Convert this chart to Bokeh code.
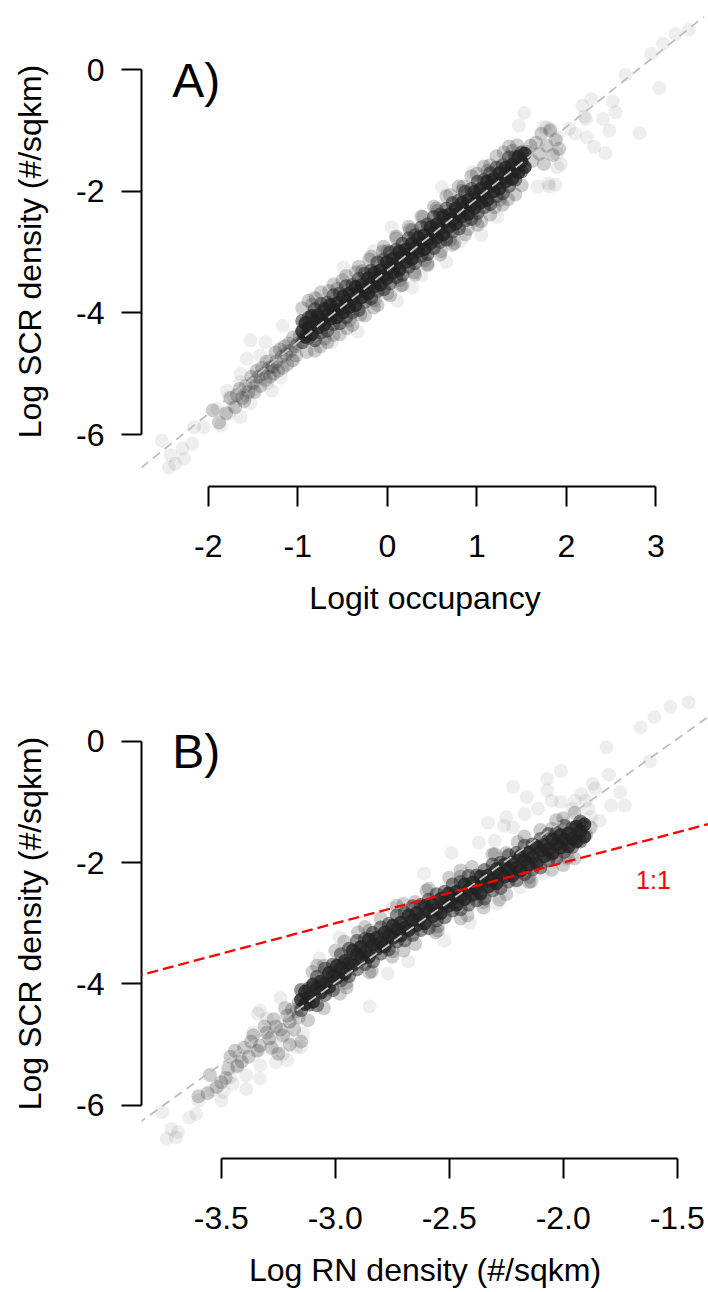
from bokeh.plotting import figure
from bokeh.models import Range1d, FixedTicker, Slope, Label
from bokeh.layouts import column
from bokeh.embed import file_html
from bokeh.resources import INLINE

FONT = "Liberation Sans"

# ---------------- axis ticks / labels ----------------
y_ticks = [-6, -4, -2, 0]
y_tick_labels = ["-6", "-4", "-2", "0"]
a_x_ticks = [-2, -1, 0, 1, 2, 3]
a_x_tick_labels = ["-2", "-1", "0", "1", "2", "3"]
b_x_ticks = [-3.5, -3.0, -2.5, -2.0, -1.5]
b_x_tick_labels = ["-3.5", "-3.0", "-2.5", "-2.0", "-1.5"]

y_title = "Log SCR density (#/sqkm)"
a_x_title = "Logit occupancy"
b_x_title = "Log RN density (#/sqkm)"

# fitted (grey) lines and 1:1 (red) line: slope, intercept
a_fit = (1.18, -3.30)
b_fit = (2.68, 4.06)
one_to_one = (1.0, 0.0)

# ---------------- panel A: dense band of points ----------------
a_band_x1 = [-0.95, -0.88, -0.81, -0.74, -0.67, -0.60, -0.53, -0.46, -0.39, -0.32, -0.25, -0.18,
             -0.11, -0.04, 0.03, 0.10, 0.17, 0.24, 0.31, 0.38, 0.45, 0.52, 0.59, 0.66,
             0.73, 0.80, 0.87, 0.94, 1.01, 1.08, 1.15, 1.22, 1.29, 1.36, 1.43, 1.50]
a_band_mid = [-4.30, -4.25, -4.15, -4.12, -4.04, -3.96, -3.94, -3.81, -3.77, -3.65, -3.62, -3.51,
              -3.42, -3.38, -3.25, -3.19, -3.07, -3.04, -2.93, -2.84, -2.80, -2.67, -2.61, -2.49,
              -2.46, -2.36, -2.26, -2.22, -2.09, -2.04, -1.91, -1.88, -1.78, -1.69, -1.64, -1.51]
a_band_top2 = [-4.13, -4.08, -3.94, -3.85, -3.83, -3.71, -3.68, -3.56, -3.54, -3.44, -3.35, -3.30,
               -3.17, -3.12, -3.00, -2.96, -2.86, -2.77, -2.72, -2.59, -2.54, -2.42, -2.38, -2.28,
               -2.19, -2.15, -2.01, -1.96, -1.84, -1.81, -1.70, -1.61, -1.57, -1.44, -1.44, -1.36]
a_band_bot2 = [-4.48, -4.41, -4.45, -4.32, -4.29, -4.18, -4.17, -4.07, -3.99, -3.95, -3.82, -3.76,
               -3.64, -3.61, -3.51, -3.41, -3.37, -3.24, -3.18, -3.06, -3.03, -2.93, -2.83, -2.79,
               -2.66, -2.61, -2.48, -2.45, -2.35, -2.26, -2.21, -2.08, -2.03, -1.91, -1.81, -1.67]
a_band_x2 = [-0.915, -0.845, -0.775, -0.705, -0.635, -0.565, -0.495, -0.425, -0.355, -0.285, -0.215,
             -0.145, -0.075, -0.005, 0.065, 0.135, 0.205, 0.275, 0.345, 0.415, 0.485, 0.555, 0.625,
             0.695, 0.765, 0.835, 0.905, 0.975, 1.045, 1.115, 1.185, 1.255, 1.325, 1.395, 1.465, 1.535]
a_band_top1 = [-4.17, -4.05, -4.04, -3.94, -3.87, -3.84, -3.73, -3.68, -3.57, -3.54, -3.43, -3.34,
               -3.30, -3.17, -3.11, -2.99, -2.96, -2.86, -2.76, -2.72, -2.59, -2.54, -2.41, -2.38,
               -2.28, -2.19, -2.14, -2.01, -1.96, -1.84, -1.80, -1.70, -1.61, -1.56, -1.43, -1.38]
a_band_bot1 = [-4.39, -4.35, -4.24, -4.19, -4.09, -4.07, -3.99, -3.90, -3.87, -3.74, -3.68, -3.56,
               -3.53, -3.43, -3.33, -3.29, -3.16, -3.11, -2.98, -2.95, -2.85, -2.76, -2.71, -2.58,
               -2.53, -2.41, -2.37, -2.27, -2.18, -2.14, -2.00, -1.95, -1.83, -1.79, -1.69, -1.60]

a_fringe = [
    (-0.95, -3.92), (-0.80, -3.76), (-0.65, -3.64), (-0.50, -3.46), (-0.35, -3.33),
    (-0.20, -3.12), (-0.05, -2.99), (0.10, -2.77), (0.25, -2.63), (0.40, -2.42),
    (0.55, -2.28), (0.70, -2.06), (0.85, -1.92), (1.00, -1.71), (1.15, -1.57),
    (1.30, -1.36), (1.45, -1.24),
    (-0.90, -4.64), (-0.75, -4.55), (-0.60, -4.36), (-0.45, -4.25), (-0.30, -4.03),
    (-0.15, -3.91), (0.00, -3.68), (0.15, -3.55), (0.30, -3.33), (0.45, -3.19),
    (0.60, -2.98), (0.75, -2.85), (0.90, -2.62), (1.05, -2.49), (1.20, -2.26),
    (1.35, -2.13), (1.50, -1.90),
    (-0.84, -3.86), (-0.56, -3.60), (-0.28, -3.31), (0.00, -2.98), (0.28, -2.64),
    (0.56, -2.32), (0.84, -1.99), (1.12, -1.66), (1.40, -1.33),
    (-0.70, -4.42), (-0.42, -4.12), (-0.14, -3.79), (0.14, -3.46), (0.42, -3.13),
    (0.70, -2.80), (0.98, -2.47), (1.26, -2.14),
    (-0.88, -3.80), (-0.74, -3.66), (-0.60, -3.53), (-0.46, -3.39), (-0.32, -3.24),
    (-0.18, -3.07), (-0.04, -2.91), (0.10, -2.74), (0.24, -2.58), (0.38, -2.41),
    (0.52, -2.25), (0.66, -2.08), (0.80, -1.92), (0.94, -1.75), (1.08, -1.59),
    (1.22, -1.42), (1.36, -1.26),
    (-0.81, -4.62), (-0.67, -4.48), (-0.53, -4.35), (-0.39, -4.20), (-0.25, -4.04),
    (-0.11, -3.87), (0.03, -3.71), (0.17, -3.54), (0.31, -3.37), (0.45, -3.21),
    (0.59, -3.04), (0.73, -2.88), (0.87, -2.71), (1.01, -2.55), (1.15, -2.38),
    (1.29, -2.22), (1.43, -2.05),
    (-1.00, -4.50), (-1.02, -4.70), (-1.05, -4.40), (-1.08, -4.62), (-1.12, -4.85),
    (-1.15, -4.55), (-1.18, -4.72), (-1.22, -4.95), (-1.25, -4.65), (-1.28, -4.88),
    (-1.31, -5.05), (-1.35, -4.80), (-1.38, -5.00), (-1.42, -5.20), (-1.46, -4.95),
    (-1.50, -5.15), (-1.55, -5.30), (-1.60, -5.45), (-1.65, -5.25), (-1.70, -5.55),
    (-1.75, -5.40), (-1.80, -5.65), (-1.88, -5.80), (-1.95, -5.60),
    (-0.98, -4.38), (-1.03, -4.55), (-1.06, -4.78), (-1.10, -4.50), (-1.13, -4.68),
    (-1.17, -4.90), (-1.20, -4.60), (-1.24, -4.80), (-1.27, -5.00), (-1.32, -4.90),
    (-1.36, -5.10), (-1.40, -4.90), (-1.44, -5.05), (-1.48, -5.30), (-1.52, -5.05),
    (-1.58, -5.20), (-1.62, -5.40), (-1.68, -5.35),
    (1.55, -1.35), (1.60, -1.25), (1.62, -1.50), (1.66, -1.20), (1.70, -1.38),
    (1.72, -1.05), (1.75, -1.55), (1.78, -1.25), (1.82, -1.00), (1.85, -1.40),
    (1.88, -1.15), (1.92, -1.30),
]

a_sparse = [
    (3.37, 0.66), (3.22, 0.59), (3.08, 0.43), (2.95, 0.26), (2.66, -0.08), (3.04, -0.30),
    (2.28, -0.48), (2.18, -0.59), (2.52, -0.52), (2.55, -0.70), (2.41, -0.81), (2.22, -0.81),
    (2.20, -0.77), (2.48, -1.00), (2.82, -1.04), (2.23, -1.11), (2.31, -1.27), (2.44, -1.37),
    (2.03, -0.97), (2.10, -1.05), (1.82, -0.97), (1.75, -0.94), (1.90, -1.11), (1.90, -1.38),
    (1.90, -1.60), (1.53, -0.71), (1.78, -0.95), (1.88, -1.89), (1.81, -1.92), (1.68, -1.92),
    (1.94, -1.55), (1.47, -0.92),
    (0.11, -3.80), (-0.33, -4.31), (0.66, -3.16), (1.23, -2.42), (1.80, -1.87),
    (0.61, -1.93), (0.05, -2.59), (-0.49, -3.25), (-0.82, -3.74), (0.28, -3.58), (-1.17, -4.21),
    (0.95, -1.68), (1.05, -2.72), (-0.15, -2.98), (0.38, -3.38), (-0.62, -4.48), (0.82, -2.82),
    (-1.53, -4.45), (-1.36, -4.48), (-1.57, -4.75), (-1.42, -4.70), (-1.64, -5.00), (-1.64, -5.14),
    (-1.79, -5.28), (-1.77, -5.39), (-1.90, -5.58), (-1.77, -5.66), (-1.64, -5.71), (-1.86, -5.85),
    (-2.05, -5.88), (-2.16, -5.88), (-2.52, -6.10), (-2.18, -6.15), (-2.29, -6.23), (-2.42, -6.34),
    (-2.27, -6.40), (-2.37, -6.48), (-2.44, -6.54), (-1.57, -5.36), (-1.47, -5.11), (-1.34, -5.16),
    (-1.29, -5.28), (-1.27, -4.89), (-1.19, -5.06), (-1.12, -4.62), (-1.31, -4.78), (-1.05, -4.78),
    (-1.53, -5.49), (-1.72, -5.52), (-1.50, -5.28),
]

# ---------------- panel B: dense band of points ----------------
b_band_x1 = [-3.15, -3.115, -3.08, -3.045, -3.01, -2.975, -2.94, -2.905, -2.87, -2.835, -2.80, -2.765,
             -2.73, -2.695, -2.66, -2.625, -2.59, -2.555, -2.52, -2.485, -2.45, -2.415, -2.38, -2.345,
             -2.31, -2.275, -2.24, -2.205, -2.17, -2.135, -2.10, -2.065, -2.03, -1.995, -1.96, -1.925]
b_band_mid = [-4.26, -4.21, -4.07, -4.00, -3.87, -3.74, -3.66, -3.52, -3.47, -3.35, -3.32, -3.20,
              -3.10, -3.07, -2.95, -2.91, -2.80, -2.77, -2.67, -2.59, -2.56, -2.45, -2.42, -2.31,
              -2.28, -2.19, -2.11, -2.08, -1.95, -1.91, -1.80, -1.78, -1.70, -1.62, -1.60, -1.48]
b_band_top2 = [-4.10, -4.07, -3.88, -3.75, -3.68, -3.51, -3.42, -3.29, -3.26, -3.16, -3.07, -3.01,
               -2.87, -2.83, -2.72, -2.70, -2.61, -2.52, -2.48, -2.36, -2.32, -2.22, -2.21, -2.12,
               -2.03, -2.00, -1.88, -1.84, -1.72, -1.70, -1.61, -1.53, -1.51, -1.39, -1.43, -1.32]
b_band_bot2 = [-4.43, -4.34, -4.35, -4.18, -4.10, -3.94, -3.87, -3.76, -3.67, -3.63, -3.50, -3.43,
               -3.30, -3.28, -3.19, -3.11, -3.08, -2.95, -2.90, -2.79, -2.77, -2.69, -2.62, -2.59,
               -2.46, -2.42, -2.31, -2.29, -2.19, -2.11, -2.08, -1.96, -1.93, -1.82, -1.74, -1.65]
b_band_x2 = [-3.1325, -3.0975, -3.0625, -3.0275, -2.9925, -2.9575, -2.9225, -2.8875, -2.8525,
             -2.8175, -2.7825, -2.7475, -2.7125, -2.6775, -2.6425, -2.6075, -2.5725, -2.5375,
             -2.5025, -2.4675, -2.4325, -2.3975, -2.3625, -2.3275, -2.2925, -2.2575, -2.2225,
             -2.1875, -2.1525, -2.1175, -2.0825, -2.0475, -2.0125, -1.9775, -1.9425, -1.9075]
b_band_top1 = [-4.13, -4.01, -3.96, -3.82, -3.70, -3.62, -3.45, -3.39, -3.27, -3.24, -3.15, -3.04,
               -2.99, -2.87, -2.83, -2.72, -2.70, -2.60, -2.51, -2.48, -2.36, -2.33, -2.23, -2.21,
               -2.11, -2.03, -2.00, -1.89, -1.84, -1.73, -1.71, -1.62, -1.55, -1.52, -1.41, -1.37]
b_band_bot1 = [-4.33, -4.29, -4.14, -4.05, -3.90, -3.83, -3.69, -3.59, -3.55, -3.42, -3.38, -3.24,
               -3.20, -3.11, -3.03, -3.00, -2.88, -2.83, -2.71, -2.69, -2.60, -2.53, -2.51, -2.39,
               -2.34, -2.23, -2.21, -2.13, -2.04, -2.01, -1.89, -1.85, -1.75, -1.73, -1.65, -1.57]

b_fringe = [
    (-3.10, -3.80), (-3.00, -3.45), (-2.90, -3.15), (-2.80, -2.92), (-2.70, -2.68),
    (-2.60, -2.46), (-2.50, -2.25), (-2.40, -2.07), (-2.30, -1.86), (-2.20, -1.66),
    (-2.10, -1.46), (-2.00, -1.27), (-1.95, -1.18),
    (-3.05, -4.40), (-2.95, -4.06), (-2.85, -3.81), (-2.75, -3.55), (-2.65, -3.34),
    (-2.55, -3.12), (-2.45, -2.92), (-2.35, -2.74), (-2.25, -2.52), (-2.15, -2.32),
    (-2.05, -2.12), (-1.95, -1.93),
    (-3.05, -3.70), (-2.85, -3.12), (-2.65, -2.65), (-2.45, -2.23), (-2.25, -1.84), (-2.05, -1.44),
    (-2.95, -3.98), (-2.75, -3.46), (-2.55, -3.05), (-2.35, -2.65), (-2.15, -2.24), (-1.98, -1.92),
    (-3.08, -3.70), (-2.96, -3.30), (-2.87, -3.06), (-2.73, -2.71), (-2.59, -2.43),
    (-2.45, -2.13), (-2.31, -1.86), (-2.17, -1.57), (-2.03, -1.30),
    (-3.12, -4.60), (-2.98, -4.16), (-2.84, -3.79), (-2.70, -3.45), (-2.56, -3.15),
    (-2.42, -2.87), (-2.28, -2.61), (-2.14, -2.31), (-2.00, -2.04),
    (-3.17, -4.45), (-3.20, -4.62), (-3.22, -4.40), (-3.24, -4.75), (-3.27, -4.58),
    (-3.29, -4.90), (-3.31, -4.70), (-3.33, -5.02), (-3.36, -4.85), (-3.38, -5.20),
    (-3.40, -5.05), (-3.43, -5.35), (-3.46, -5.20), (-3.48, -5.55), (-3.52, -5.70),
    (-3.55, -5.50), (-3.60, -5.85), (-3.20, -5.00), (-3.25, -5.15), (-3.15, -4.95),
    (-3.16, -4.55), (-3.18, -4.75), (-3.21, -4.52), (-3.23, -4.85), (-3.26, -4.70),
    (-3.28, -5.05), (-3.30, -4.80), (-3.34, -5.10), (-3.37, -4.95), (-3.41, -5.28),
    (-3.44, -5.10), (-3.47, -5.40), (-3.50, -5.62), (-3.56, -5.80), (-3.16, -4.30),
    (-3.19, -4.42),
    (-1.92, -1.35), (-1.90, -1.55), (-1.88, -1.42), (-1.93, -1.62),
]

b_sparse = [
    (-1.45, 0.64), (-1.53, 0.57), (-1.60, 0.40), (-1.66, 0.23), (-1.81, -0.10), (-1.62, -0.33),
    (-2.01, -0.49), (-2.07, -0.62), (-2.22, -0.75), (-1.80, -0.55), (-1.87, -0.70), (-1.86, -0.78),
    (-1.75, -0.84), (-1.79, -1.06), (-1.73, -1.06), (-1.84, -1.31), (-2.07, -0.81), (-2.16, -0.92),
    (-1.92, -0.87), (-1.90, -0.98), (-1.95, -0.98), (-2.01, -1.00), (-2.05, -0.98), (-2.11, -1.11),
    (-1.96, -1.11), (-1.89, -1.11), (-2.17, -1.20), (-2.25, -1.25), (-2.22, -1.42), (-2.26, -1.39),
    (-1.90, -1.50), (-2.00, -1.83), (-2.06, -1.88), (-1.88, -1.25), (-2.33, -1.34),
    (-2.49, -1.84), (-2.61, -2.18), (-2.37, -1.67), (-2.30, -1.64), (-2.75, -2.75), (-2.85, -3.22),
    (-2.85, -4.37), (-2.52, -3.29), (-2.41, -2.99), (-2.29, -2.68), (-2.19, -2.41), (-2.09, -2.18),
    (-1.99, -1.94), (-2.68, -3.63), (-2.77, -3.83), (-2.98, -3.23), (-3.07, -3.58),
    (-3.34, -4.49), (-3.30, -4.57), (-3.36, -4.80), (-3.28, -4.88), (-3.26, -5.04), (-3.42, -5.18),
    (-3.35, -5.10), (-3.43, -5.37), (-3.33, -5.56), (-3.39, -5.73), (-3.45, -5.65), (-3.46, -5.54),
    (-3.49, -5.78), (-3.54, -5.76), (-3.50, -5.92), (-3.60, -5.92), (-3.76, -6.11), (-3.64, -6.20),
    (-3.61, -6.14), (-3.72, -6.39), (-3.69, -6.44), (-3.74, -6.55), (-3.70, -6.53), (-3.23, -5.15),
    (-3.20, -4.63), (-3.17, -5.04), (-3.26, -5.29), (-3.21, -4.88), (-3.14, -4.82), (-3.15, -5.04),
    (-3.33, -5.34), (-3.39, -5.51), (-3.21, -5.26), (-3.33, -4.44), (-3.24, -4.23), (-3.12, -4.20),
]


def inner_points(x1, mid, x2, top1, bot1):
    return list(zip(x1, mid)) + list(zip(x2, top1)) + list(zip(x2, bot1))


def outer_points(x1, top2, bot2):
    return list(zip(x1, top2)) + list(zip(x1, bot2))


a_inner = inner_points(a_band_x1, a_band_mid, a_band_x2, a_band_top1, a_band_bot1)
a_outer = outer_points(a_band_x1, a_band_top2, a_band_bot2)
b_inner = inner_points(b_band_x1, b_band_mid, b_band_x2, b_band_top1, b_band_bot1)
b_outer = outer_points(b_band_x1, b_band_top2, b_band_bot2)


def xs(pts):
    return [p[0] for p in pts]


def ys(pts):
    return [p[1] for p in pts]


def make_panel(x_rng, y_rng, height, min_top, min_bottom, x_ticks, x_labels, x_bounds, x_title):
    p = figure(width=708, height=height,
               x_range=Range1d(*x_rng), y_range=Range1d(*y_rng),
               output_backend="svg", toolbar_location=None,
               min_border_left=141, min_border_right=0,
               min_border_top=min_top, min_border_bottom=min_bottom)
    p.xgrid.visible = False
    p.ygrid.visible = False
    p.outline_line_color = None
    p.background_fill_color = "white"
    p.border_fill_color = "white"

    xa = p.xaxis[0]
    xa.ticker = FixedTicker(ticks=x_ticks)
    xa.major_label_overrides = {t: l for t, l in zip(x_ticks, x_labels)}
    xa.bounds = x_bounds
    ya = p.yaxis[0]
    ya.ticker = FixedTicker(ticks=y_ticks)
    ya.major_label_overrides = {t: l for t, l in zip(y_ticks, y_tick_labels)}
    ya.bounds = (-6, 0)
    for ax in (xa, ya):
        ax.axis_line_color = "black"
        ax.axis_line_width = 2
        ax.major_tick_line_color = "black"
        ax.major_tick_line_width = 2
        ax.major_tick_out = 20
        ax.major_tick_in = 0
        ax.minor_tick_out = 0
        ax.minor_tick_in = 0
        ax.major_label_text_font = FONT
        ax.major_label_text_font_size = "32px"
        ax.major_label_text_color = "black"
        ax.axis_label_text_font = FONT
        ax.axis_label_text_font_size = "32px"
        ax.axis_label_text_font_style = "normal"
        ax.axis_label_text_color = "black"
    xa.major_label_standoff = 28
    ya.major_label_standoff = 17
    ya.axis_label = y_title
    ya.axis_label_standoff = 25
    xa.axis_label = x_title
    xa.axis_label_standoff = 20
    return p


def add_points(p, inner, outer, fringe, sparse):
    p.scatter(xs(sparse), ys(sparse), size=14, marker="circle",
              fill_color="#222222", fill_alpha=0.08, line_color=None)
    p.scatter(xs(fringe), ys(fringe), size=14, marker="circle",
              fill_color="#222222", fill_alpha=0.22, line_color=None)
    p.scatter(xs(outer), ys(outer), size=14, marker="circle",
              fill_color="#222222", fill_alpha=0.5, line_color=None)
    p.scatter(xs(inner), ys(inner), size=14, marker="circle",
              fill_color="#222222", fill_alpha=0.8, line_color=None)


# ---------------- Panel A ----------------
pa = make_panel((-2.7464, 3.5888), (-6.8536, 0.8766), 680, 16, 194,
                a_x_ticks, a_x_tick_labels, (-2, 3), a_x_title)
add_points(pa, a_inner, a_outer, a_fringe, a_sparse)
pa.add_layout(Slope(gradient=a_fit[0], y_intercept=a_fit[1],
                    line_color="#bebebe", line_width=1.8, line_dash="9 6"))
pa.add_layout(Label(x=-2.404, y=-0.176, text="A)", text_font=FONT,
                    text_font_size="48px", text_color="black",
                    text_align="left", text_baseline="middle"))

# ---------------- Panel B ----------------
pb = make_panel((-3.8501, -1.3627), (-6.8766, 0.8703), 612, 8, 134,
                b_x_ticks, b_x_tick_labels, (-3.5, -1.5), b_x_title)
add_points(pb, b_inner, b_outer, b_fringe, b_sparse)
pb.add_layout(Slope(gradient=b_fit[0], y_intercept=b_fit[1],
                    line_color="#bebebe", line_width=1.8, line_dash="9 6"))
pb.add_layout(Slope(gradient=one_to_one[0], y_intercept=one_to_one[1],
                    line_color="#ff0000", line_width=2.3, line_dash="11 5"))
pb.add_layout(Label(x=-1.604, y=-2.278, text="1:1", text_font=FONT,
                    text_font_size="25px", text_color="#ff0000",
                    text_align="center", text_baseline="middle"))
pb.add_layout(Label(x=-3.7154, y=-0.176, text="B)", text_font=FONT,
                    text_font_size="48px", text_color="black",
                    text_align="left", text_baseline="middle"))

layout = column(pa, pb)
open("out.html", "w").write(file_html(layout, INLINE))
